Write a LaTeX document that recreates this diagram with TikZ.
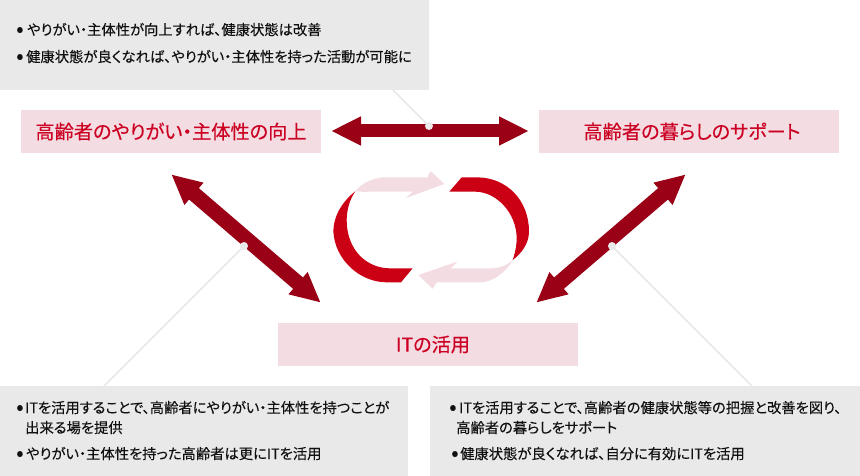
\documentclass[tikz,border=0pt]{standalone}
\usepackage{fontspec}
\setmainfont{Noto Sans CJK JP}[RawFeature=+palt]
\newfontfamily\labelfont{Noto Sans CJK JP}[RawFeature=+palt,FakeBold=0.35]
\newfontfamily\bodyfont{Noto Sans CJK JP}[RawFeature=+palt,FakeBold=0.12]
\usetikzlibrary{arrows.meta}
\definecolor{boxgray}{HTML}{E9E9E9}
\definecolor{boxpink}{HTML}{F3DDE2}
\definecolor{arrowred}{HTML}{9A0016}
\definecolor{cyclered}{HTML}{CC0014}
\definecolor{labelred}{HTML}{CC0022}
\definecolor{bodytext}{HTML}{111111}
\newcommand{\bul}[1]{\makebox[#1pt][l]{\raisebox{-1.5pt}{\fontsize{22}{22}\selectfont •}}}
\tikzset{
  graybox/.style={fill=boxgray,draw=none},
  pinkbox/.style={fill=boxpink,draw=none,minimum width=300pt,minimum height=43pt,inner sep=0pt},
  labeltext/.style={inner sep=0pt,text=labelred,font=\labelfont\fontsize{19.2}{19.2}\selectfont},
  bodyline/.style={anchor=base west,inner sep=0pt,text=bodytext,font=\bodyfont\fontsize{14.3}{14.3}\selectfont},
  bigarrow/.style={draw=arrowred,line width=13pt,{Triangle[length=30pt,width=27pt,fill=arrowred]}-{Triangle[length=30pt,width=27pt,fill=arrowred]}},
  diagarrow/.style={bigarrow,line width=15pt},
  leaderline/.style={draw=boxgray,line width=1.5pt},
  leaderdot/.style={circle,fill=boxgray,draw=none,minimum size=8pt,inner sep=0pt},
}
\begin{document}
\begin{tikzpicture}[x=1pt,y=-1pt]
\useasboundingbox (0,0) rectangle (860,476);
\fill[white] (0,0) rectangle (860,476);
% grey panels
\fill[graybox] (0,0) rectangle (429,90);
\fill[graybox] (0,386) rectangle (408,476);
\fill[graybox] (430,386) rectangle (860,476);
\coordinate (topfoot) at (393,90);
\coordinate (leftfoot) at (104,386);
\coordinate (rightfoot) at (752,386);
% labels
\node[pinkbox] (care) at (171,131.5) {};
\node[pinkbox] (life) at (689,131.5) {};
\node[pinkbox] (it) at (428,344.5) {};
\node[labeltext] (caret) at (171,131.5) {高齢者のやりがい・主体性の向上};
\node[labeltext] (lifet) at (692,131.5) {高齢者の暮らしのサポート};
\node[labeltext] (itt) at (433,344.5) {ITの活用};
% double arrows
\coordinate (ha) at (331,131); \coordinate (hb) at (529,131);
\coordinate (la) at (171.2,174.3); \coordinate (lb) at (320.8,302.7);
\coordinate (ra) at (685.8,174.3); \coordinate (rb) at (536.2,302.7);
\draw[bigarrow] (ha) -- (hb);
\draw[diagarrow] (la) -- (lb);
\draw[diagarrow] (ra) -- (rb);
% leaders
\node[leaderdot] (td) at (429,126) {};
\node[leaderdot] (ld) at (244,246) {};
\node[leaderdot] (rd) at (612,246) {};
\draw[leaderline] (topfoot) -- (td.center);
\draw[leaderline] (leftfoot) -- (ld.center);
\draw[leaderline] (rightfoot) -- (rd.center);
% cycle
\begin{scope}[shift={(320,160)},x=0.33333pt,y=-0.33333pt]
\fill[cyclered] (425,52) -- (470,52) .. controls (560,52) and (627,120) .. (627,215)
  .. controls (627,250) and (605,280) .. (578,300)
  .. controls (588,270) and (590,250) .. (590,235)
  .. controls (590,160) and (530,95) .. (465,95) -- (388,95) -- cycle;
\fill[cyclered] (107,93) .. controls (60,130) and (40,175) .. (40,215)
  .. controls (45,300) and (120,367) .. (200,367) -- (243,367) -- (278,325) -- (210,325)
  .. controls (140,325) and (80,270) .. (80,180)
  .. controls (80,150) and (90,115) .. (107,93) -- cycle;
\fill[boxpink] (373,72) -- (332,33) -- (322,52) -- (190,52)
  .. controls (150,55) and (120,75) .. (107,93)
  .. controls (125,97) and (140,95) .. (160,95) -- (278,95) -- (258,114) -- cycle;
\fill[boxpink] (295,345) -- (412,305) -- (392,325) -- (510,325)
  .. controls (540,325) and (565,315) .. (580,298)
  .. controls (560,335) and (520,367) .. (480,367) -- (350,367) -- (338,386) -- cycle;
\end{scope}
% body text
\node[bodyline] (t1) at (16,35) {\bul{11}やりがい・主体性が向上すれば、健康状態は改善};
\node[bodyline] (t2) at (16,62) {\bul{10}健康状態が良くなれば、やりがい・主体性を持った活動が可能に};
\node[bodyline] (b1) at (16,413) {\bul{9}ITを活用することで、高齢者にやりがい・主体性を持つことが};
\node[bodyline] (b2) at (25,433) {出来る場を提供};
\node[bodyline] (b3) at (16,459) {\bul{10}やりがい・主体性を持った高齢者は更にITを活用};
\node[bodyline] (c1) at (449,413) {\bul{10}ITを活用することで、高齢者の健康状態等の把握と改善を図り、};
\node[bodyline] (c2) at (456,433) {高齢者の暮らしをサポート};
\node[bodyline] (c3) at (451,459) {\bul{9}健康状態が良くなれば、自分に有効にITを活用};
\end{tikzpicture}
\end{document}
